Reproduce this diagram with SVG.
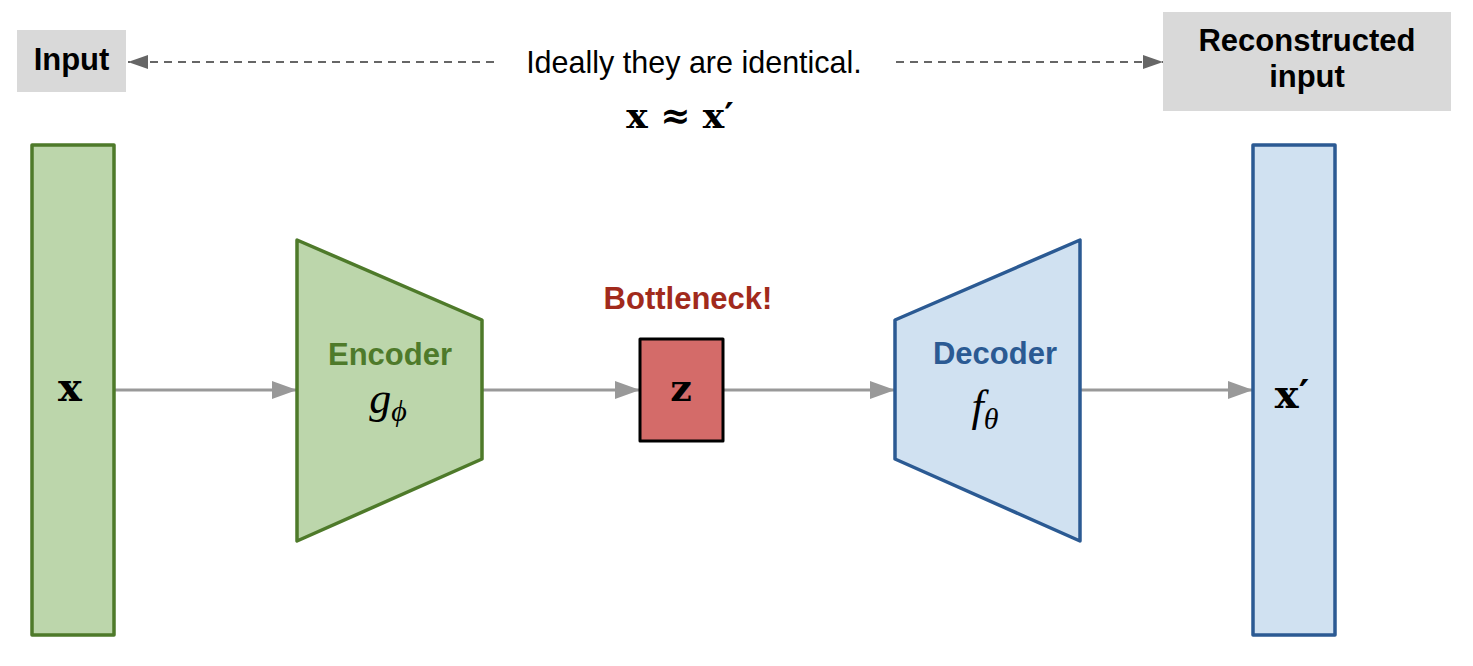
<svg xmlns="http://www.w3.org/2000/svg" width="1473" height="666" viewBox="0 0 1473 666">
<style>
.lbl{font-family:"Liberation Sans",Arial,sans-serif;font-weight:bold;font-size:31px;text-anchor:middle}
.plain{font-family:"Liberation Sans",Arial,sans-serif;font-size:30.5px;text-anchor:middle;fill:#000}
.mb{font-family:"DejaVu Serif","Liberation Serif",serif;font-weight:bold;text-anchor:middle;fill:#000}
.mi{font-family:"Liberation Serif","Times New Roman",serif;font-style:italic;text-anchor:middle;fill:#000}
.conn{stroke:#999;stroke-width:3;fill:none}
.dash{stroke:#666;stroke-width:2;stroke-dasharray:8,6;fill:none}
.grn{fill:#bcd6ab;stroke:#4e7a2a;stroke-width:3.5;stroke-linejoin:round}
.blu{fill:#d0e1f1;stroke:#2b5a93;stroke-width:3.5;stroke-linejoin:round}
.gray{fill:#d9d9d9}
</style>
<defs>
<marker id="ag" markerWidth="26" markerHeight="18" refX="25" refY="9" orient="auto" markerUnits="userSpaceOnUse"><path d="M0,0 L25,9 L0,18 Z" fill="#999"/></marker>
<marker id="ad" markerWidth="20" markerHeight="14" refX="20" refY="7" orient="auto" markerUnits="userSpaceOnUse"><path d="M0,0 L20,7 L0,14 Z" fill="#666"/></marker>
</defs>
<g id="connectors">
<line class="conn" x1="115" y1="390" x2="297" y2="390" marker-end="url(#ag)"/>
<line class="conn" x1="483" y1="390" x2="640" y2="390" marker-end="url(#ag)"/>
<line class="conn" x1="723" y1="390" x2="895" y2="390" marker-end="url(#ag)"/>
<line class="conn" x1="1081" y1="390" x2="1253" y2="390" marker-end="url(#ag)"/>
<line class="dash" x1="494" y1="62" x2="128" y2="62" marker-end="url(#ad)"/>
<line class="dash" x1="896" y1="62" x2="1163" y2="62" marker-end="url(#ad)"/>
</g>
<g id="input-label">
<rect class="gray" x="17" y="30" width="109" height="62"/>
<text class="lbl" x="71.5" y="70" fill="#000">Input</text>
</g>
<g id="reconstructed-label">
<rect class="gray" x="1163" y="12" width="288" height="99"/>
<text class="lbl" x="1307" y="51" fill="#000">Reconstructed</text>
<text class="lbl" x="1307" y="87" fill="#000">input</text>
</g>
<g id="caption">
<text class="plain" x="694" y="73">Ideally they are identical.</text>
<text class="mb" x="680" y="128" font-size="36">x ≈ x′</text>
</g>
<g id="x-input">
<rect class="grn" x="32" y="145" width="82" height="490"/>
<text class="mb" x="70" y="401" font-size="40">x</text>
</g>
<g id="encoder">
<polygon class="grn" points="297,240 482,320 482,459 297,541"/>
<text class="lbl" x="390" y="365" fill="#4e7a2a">Encoder</text>
<text class="mi" x="388" y="413" font-size="44">g<tspan font-size="30" dy="8">ϕ</tspan></text>
</g>
<g id="bottleneck">
<text class="lbl" x="688" y="309" fill="#a12a1c">Bottleneck!</text>
<rect x="640" y="339" width="83" height="102" fill="#d46b69" stroke="#000" stroke-width="3" stroke-linejoin="round"/>
<text class="mb" x="681" y="401" font-size="38">z</text>
</g>
<g id="decoder">
<polygon class="blu" points="895,320 1080,240 1080,541 895,459"/>
<text class="lbl" x="995" y="364" fill="#2b5a93">Decoder</text>
<text class="mi" x="985" y="421" font-size="44">f<tspan font-size="30" dy="8">θ</tspan></text>
</g>
<g id="x-output">
<rect class="blu" x="1253" y="145" width="82" height="490"/>
<text class="mb" x="1292" y="408" font-size="40">x′</text>
</g>
</svg>
